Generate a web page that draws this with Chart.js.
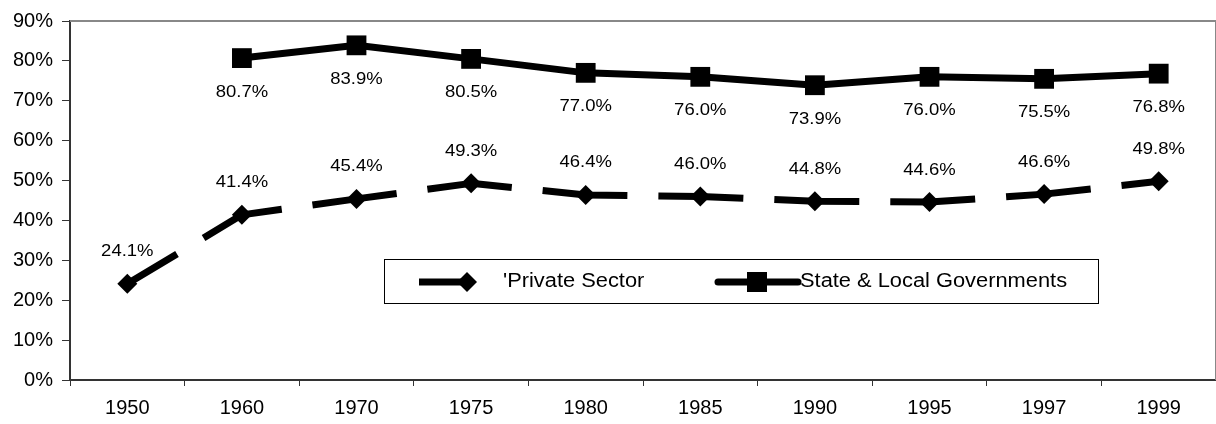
<!DOCTYPE html>
<html>
<head>
<meta charset="utf-8">
<script src="https://cdn.jsdelivr.net/npm/chart.js@4"></script>
<style>
  html, body { margin: 0; padding: 0; background: #fff; overflow: hidden; }
  #wrap { width: 1230px; height: 424px; }
</style>
</head>
<body>
<div id="wrap"><canvas id="c" width="1230" height="424"></canvas></div>
<script>
const categories = ['1950', '1960', '1970', '1975', '1980', '1985', '1990', '1995', '1997', '1999'];
const privateSector = [24.1, 41.4, 45.4, 49.3, 46.4, 46.0, 44.8, 44.6, 46.6, 49.8];
const stateLocal = [null, 80.7, 83.9, 80.5, 77.0, 76.0, 73.9, 76.0, 75.5, 76.8];
const yTicks = [0, 10, 20, 30, 40, 50, 60, 70, 80, 90];
const seriesNames = ["'Private Sector", 'State & Local Governments'];

const FONT = 'Liberation Sans, Arial, Helvetica, sans-serif';
const STRETCH = 1.12;

function stretchedText(ctx, text, x, y, align) {
  ctx.save();
  ctx.translate(x, y);
  ctx.scale(STRETCH, 1);
  ctx.textAlign = align;
  ctx.fillText(text, 0, 0);
  ctx.restore();
}

const labelPlugin = {
  id: 'valueLabels',
  afterDatasetsDraw(chart) {
    const ctx = chart.ctx;
    ctx.save();
    ctx.font = '16.5px ' + FONT;
    ctx.fillStyle = '#000';
    ctx.textBaseline = 'middle';
    chart.data.datasets.forEach((ds, i) => {
      const meta = chart.getDatasetMeta(i);
      meta.data.forEach((pt, j) => {
        const v = ds.data[j];
        if (v === null || v === undefined) return;
        const dy = i === 0 ? -32 : 34;
        stretchedText(ctx, v.toFixed(1) + '%', pt.x, pt.y + dy, 'center');
      });
    });
    ctx.restore();
  }
};

const framePlugin = {
  id: 'frame',
  beforeDatasetsDraw(chart) {
    const { ctx, chartArea: a } = chart;
    ctx.save();
    ctx.strokeStyle = '#888';
    ctx.lineWidth = 2;
    ctx.beginPath();
    ctx.moveTo(a.left, a.top);
    ctx.lineTo(a.right, a.top);
    ctx.lineTo(a.right, a.bottom);
    ctx.stroke();
    ctx.restore();
  }
};

const legendPlugin = {
  id: 'boxLegend',
  afterDraw(chart) {
    const ctx = chart.ctx;
    const ds = chart.data.datasets;
    const box = { x: 384, y: 259, w: 714, h: 44 };
    const cy = box.y + box.h / 2 + 1;
    ctx.save();
    ctx.fillStyle = '#fff';
    ctx.fillRect(box.x, box.y, box.w, box.h);
    ctx.strokeStyle = '#000';
    ctx.lineWidth = 1;
    ctx.strokeRect(box.x + 0.5, box.y + 0.5, box.w, box.h);
    ctx.lineWidth = 7;
    ctx.strokeStyle = '#000';
    ctx.fillStyle = '#000';
    // private
    ctx.beginPath();
    ctx.moveTo(419, cy); ctx.lineTo(467, cy); ctx.stroke();
    ctx.beginPath();
    ctx.moveTo(467, cy - 10); ctx.lineTo(477, cy); ctx.lineTo(467, cy + 10); ctx.lineTo(457, cy); ctx.closePath(); ctx.fill();
    // state
    ctx.beginPath();
    ctx.lineCap = 'round';
    ctx.moveTo(718, cy); ctx.lineTo(798, cy); ctx.stroke();
    ctx.fillRect(747, cy - 10, 20, 20);
    ctx.font = '19.5px ' + FONT;
    ctx.textBaseline = 'middle';
    stretchedText(ctx, ds[0].label, 503, cy, 'left');
    stretchedText(ctx, ds[1].label, 800, cy, 'left');
    ctx.restore();
  }
};

new Chart(document.getElementById('c'), {
  type: 'line',
  data: {
    labels: categories,
    datasets: [
      {
        label: seriesNames[0],
        data: privateSector,
        borderColor: '#000',
        backgroundColor: '#000',
        borderWidth: 7,
        borderDash: [85, 31],
        borderDashOffset: 27,
        borderJoinStyle: 'bevel',
        pointStyle: 'rectRot',
        pointRadius: 10,
        pointBorderWidth: 0,
        pointBackgroundColor: '#000',
        tension: 0
      },
      {
        label: seriesNames[1],
        data: stateLocal,
        borderColor: '#000',
        backgroundColor: '#000',
        borderWidth: 7,
        borderJoinStyle: 'bevel',
        pointStyle: 'rect',
        pointRadius: 14,
        pointBorderWidth: 0,
        pointBackgroundColor: '#000',
        tension: 0
      }
    ]
  },
  options: {
    responsive: false,
    animation: false,
    devicePixelRatio: 1,
    layout: { padding: { top: 19, right: 9, left: 0, bottom: 0 } },
    plugins: {
      legend: { display: false },
      title: { display: false },
      tooltip: { enabled: false }
    },
    scales: {
      x: {
        offset: true,
        grid: { offset: true, drawOnChartArea: false, tickLength: 6, tickColor: '#333', lineWidth: 1 },
        border: { color: '#333', width: 2 },
        ticks: { color: '#000', font: { family: FONT, size: 20 }, padding: 10, maxRotation: 0, autoSkip: false },
        afterFit(s) { s.height = 44; }
      },
      y: {
        min: 0,
        max: 90,
        afterBuildTicks(s) { s.ticks = yTicks.map(v => ({ value: v })); },
        grid: { drawOnChartArea: false, tickLength: 8, tickColor: '#333', lineWidth: 1 },
        border: { color: '#333', width: 2 },
        ticks: { color: '#000', font: { family: FONT, size: 20 }, padding: 9, callback: v => v + '%' },
        afterFit(s) { s.width = 70; }
      }
    }
  },
  plugins: [framePlugin, labelPlugin, legendPlugin]
});
</script>
</body>
</html>
